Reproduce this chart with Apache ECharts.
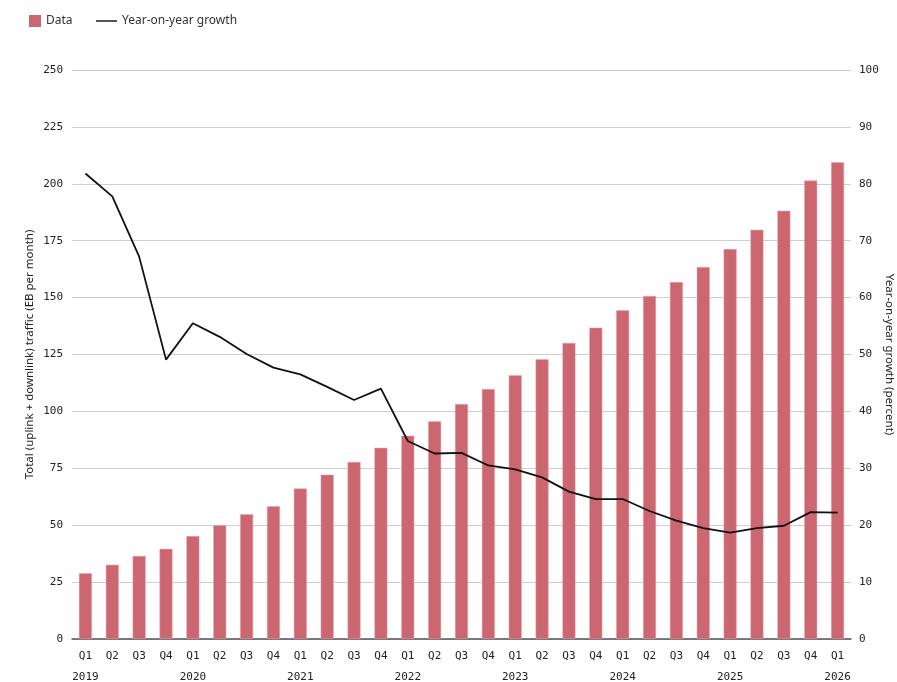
<!DOCTYPE html>
<html>
<head>
<meta charset="utf-8">
<title>Mobile data traffic</title>
<script src="https://cdn.jsdelivr.net/npm/echarts@6/dist/echarts.min.js"></script>
<style>
  html, body { margin: 0; padding: 0; background: #fff; }
  #chart { width: 897px; height: 682px; }
</style>
</head>
<body>
<div id="chart"></div>
<script>
var quarters = ['Q1','Q2','Q3','Q4','Q1','Q2','Q3','Q4','Q1','Q2','Q3','Q4',
                'Q1','Q2','Q3','Q4','Q1','Q2','Q3','Q4','Q1','Q2','Q3','Q4',
                'Q1','Q2','Q3','Q4','Q1'];
var years = ['2019','','','','2020','','','','2021','','','',
             '2022','','','','2023','','','','2024','','','',
             '2025','','','','2026'];

// total traffic, EB per month
var traffic = [28.9, 32.6, 36.5, 39.6, 45.2, 50.0, 54.8, 58.3, 66.1, 72.2, 77.8, 84.0,
               89.3, 95.7, 103.2, 109.8, 115.9, 122.9, 130.1, 136.8, 144.4, 150.7, 156.8, 163.4,
               171.3, 179.8, 188.2, 201.4, 209.5];

// year-on-year growth, percent
var growth = [81.8, 77.8, 67.2, 49.1, 55.5, 53.1, 50.1, 47.7, 46.5, 44.3, 42.0, 44.0,
              34.8, 32.6, 32.7, 30.5, 29.8, 28.4, 25.9, 24.6, 24.6, 22.5, 20.8, 19.5,
              18.7, 19.5, 19.9, 22.3, 22.2];

var labelFont = 'DejaVu Sans Mono';
var textFont = 'Noto Sans';

var categories = quarters.map(function (q, i) {
    return years[i] ? q + '\n' + years[i] : q;
});

var myChart = echarts.init(document.getElementById('chart'));
var option = {
    animation: false,
    backgroundColor: '#fff',
    legend: [
        {
            data: [{ name: 'Data', icon: 'rect' }],
            left: 24,
            top: 10,
            itemWidth: 12,
            itemHeight: 12,
            itemStyle: { borderWidth: 0 },
            textStyle: { fontFamily: textFont, fontSize: 12, color: '#333' }
        },
        {
            data: [{ name: 'Year-on-year growth', icon: 'rect' }],
            left: 91,
            top: 10,
            itemWidth: 21,
            itemHeight: 2,
            itemStyle: { color: '#555', borderWidth: 0 },
            textStyle: { fontFamily: textFont, fontSize: 12, color: '#333' }
        }
    ],
    grid: {
        left: 72,
        right: 46,
        top: 70,
        bottom: 43,
        outerBoundsMode: 'none'
    },
    xAxis: {
        type: 'category',
        data: categories,
        axisTick: { show: false },
        axisLine: { lineStyle: { color: '#555', width: 1.5 } },
        axisLabel: {
            interval: 0,
            margin: 7,
            lineHeight: 21,
            fontFamily: labelFont,
            fontSize: 11,
            color: '#222'
        }
    },
    yAxis: [
        {
            type: 'value',
            min: 0,
            max: 250,
            interval: 25,
            name: 'Total (uplink + downlink) traffic (EB per month)',
            nameLocation: 'middle',
            nameGap: 36,
            nameMoveOverlap: false,
            nameTextStyle: { fontFamily: textFont, fontSize: 11.5, color: '#222' },
            axisLine: { show: false },
            axisTick: { show: false },
            axisLabel: { margin: 9, fontFamily: labelFont, fontSize: 11, color: '#222' },
            splitLine: { lineStyle: { color: '#cfcfcf', width: 1.2 } }
        },
        {
            type: 'value',
            min: 0,
            max: 100,
            interval: 10,
            position: 'right',
            name: 'Year-on-year growth (percent)',
            nameLocation: 'middle',
            nameRotate: -90,
            nameGap: 32,
            nameMoveOverlap: false,
            nameTextStyle: { fontFamily: textFont, fontSize: 11.5, color: '#222' },
            axisLine: { show: false },
            axisTick: { show: false },
            axisLabel: { margin: 8, fontFamily: labelFont, fontSize: 11, color: '#222' },
            splitLine: { show: false }
        }
    ],
    series: [
        {
            name: 'Data',
            type: 'bar',
            data: traffic,
            barWidth: 13,
            itemStyle: {
                color: '#cc6670',
                borderColor: '#e8aab0',
                borderWidth: 0.5
            }
        },
        {
            name: 'Year-on-year growth',
            type: 'line',
            yAxisIndex: 1,
            data: growth,
            symbol: 'none',
            lineStyle: { color: '#111', width: 1.8 },
            itemStyle: { color: '#111' }
        }
    ]
};
myChart.setOption(option);
</script>
</body>
</html>
